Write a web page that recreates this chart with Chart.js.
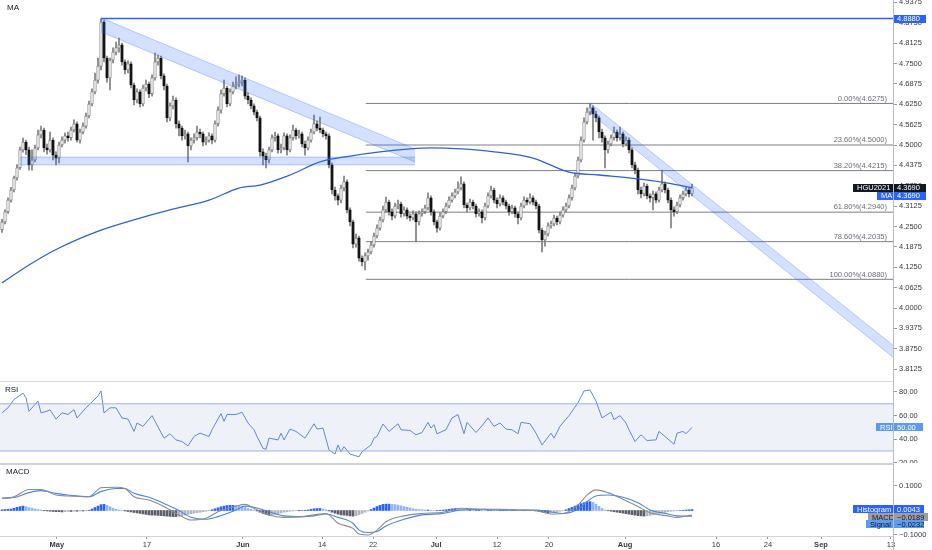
<!DOCTYPE html>
<html>
<head>
<meta charset="utf-8">
<script src="https://cdn.jsdelivr.net/npm/chart.js@4.4.0/dist/chart.umd.min.js"></script>
<style>
  html, body { margin: 0; padding: 0; background: #fff; }
  body { width: 932px; height: 550px; position: relative; overflow: hidden; font-family: "Liberation Sans", Arial, sans-serif; }
  canvas { position: absolute; left: 0; }
  .sep { position: absolute; left: 0; width: 893px; }
  .pane-title { position: absolute; font-size: 8px; line-height: 1; color: #131722; }
</style>
</head>
<body>
<canvas id="priceChart" width="932" height="381" style="top:0"></canvas>
<canvas id="rsiChart" width="932" height="81" style="top:382px"></canvas>
<canvas id="macdChart" width="932" height="85" style="top:465px"></canvas>
<div class="sep" style="top:381px;height:1px;background:#d9dbe0"></div>
<div class="sep" style="top:463px;height:2px;background:#cfd2d8"></div>
<div style="position:absolute;left:893px;top:0;width:1px;height:550px;background:#b9bcc4"></div>
<div class="pane-title" style="left:7px;top:4px">MA</div>
<div class="pane-title" style="left:5px;top:386px">RSI</div>
<div class="pane-title" style="left:6px;top:468px">MACD</div>
<script>
// HGU2021 candles, one per slot; open of each bar = previous close
const firstOpen = 4.240;
const closes = [
  4.264,4.295,4.331,4.362,4.399,4.430,4.485,4.509,4.485,4.439,
  4.454,4.491,4.531,4.546,4.491,4.485,4.515,4.469,4.460,4.500,
  4.515,4.528,4.522,4.546,4.565,4.515,4.540,4.558,4.589,4.626,
  4.663,4.699,4.742,4.877,4.767,4.706,4.761,4.785,4.798,4.807,
  4.755,4.730,4.749,4.684,4.638,4.663,4.626,4.675,4.687,4.657,
  4.706,4.755,4.767,4.712,4.681,4.583,4.620,4.638,4.565,4.552,
  4.528,4.534,4.497,4.515,4.522,4.540,4.534,4.509,4.515,4.528,
  4.515,4.565,4.607,4.657,4.675,4.626,4.663,4.681,4.687,4.693,
  4.699,4.650,4.638,4.620,4.601,4.583,4.479,4.466,4.454,4.485,
  4.522,4.528,4.485,4.491,4.528,4.485,4.522,4.546,4.528,4.534,
  4.503,4.491,4.515,4.540,4.565,4.552,4.546,4.534,4.528,4.439,
  4.362,4.344,4.331,4.368,4.387,4.301,4.264,4.196,4.215,4.153,
  4.141,4.160,4.172,4.193,4.221,4.245,4.270,4.301,4.325,4.295,
  4.282,4.313,4.319,4.289,4.301,4.282,4.276,4.289,4.264,4.289,
  4.295,4.307,4.338,4.295,4.264,4.245,4.282,4.295,4.313,4.331,
  4.344,4.356,4.368,4.381,4.316,4.307,4.325,4.313,4.289,4.295,
  4.276,4.313,4.344,4.362,4.331,4.319,4.338,4.325,4.313,4.295,
  4.307,4.289,4.276,4.313,4.331,4.325,4.338,4.325,4.313,4.239,
  4.209,4.227,4.252,4.258,4.276,4.264,4.285,4.301,4.313,4.338,
  4.368,4.405,4.454,4.515,4.571,4.601,4.614,4.595,4.583,4.540,
  4.522,4.485,4.503,4.522,4.540,4.522,4.534,4.503,4.515,4.485,
  4.439,4.423,4.362,4.350,4.374,4.344,4.338,4.350,4.331,4.362,
  4.381,4.362,4.331,4.301,4.295,4.316,4.338,4.350,4.362,4.350,
  4.369
];
const highs = [
  4.272,4.301,4.338,4.370,4.405,4.440,4.494,4.521,4.515,4.494,
  4.485,4.500,4.546,4.558,4.552,4.503,4.540,4.522,4.479,4.509,
  4.525,4.537,4.540,4.555,4.577,4.571,4.549,4.568,4.598,4.635,
  4.672,4.721,4.767,4.888,4.883,4.773,4.767,4.798,4.816,4.828,
  4.813,4.761,4.758,4.755,4.690,4.672,4.669,4.684,4.699,4.693,
  4.715,4.782,4.776,4.773,4.718,4.687,4.629,4.650,4.645,4.574,
  4.558,4.546,4.540,4.522,4.534,4.558,4.549,4.540,4.525,4.537,
  4.534,4.574,4.617,4.669,4.699,4.681,4.672,4.693,4.709,4.715,
  4.712,4.706,4.660,4.645,4.626,4.607,4.589,4.488,4.475,4.494,
  4.531,4.540,4.534,4.503,4.537,4.534,4.531,4.561,4.552,4.546,
  4.540,4.512,4.525,4.549,4.592,4.574,4.586,4.552,4.540,4.534,
  4.445,4.371,4.350,4.377,4.405,4.393,4.307,4.270,4.227,4.221,
  4.160,4.169,4.181,4.203,4.230,4.255,4.279,4.313,4.340,4.331,
  4.304,4.322,4.331,4.325,4.310,4.307,4.289,4.298,4.295,4.298,
  4.304,4.316,4.353,4.344,4.301,4.270,4.292,4.304,4.322,4.341,
  4.353,4.365,4.387,4.402,4.387,4.322,4.334,4.331,4.319,4.304,
  4.301,4.322,4.353,4.374,4.368,4.338,4.347,4.344,4.331,4.319,
  4.316,4.313,4.295,4.322,4.341,4.338,4.350,4.344,4.331,4.319,
  4.245,4.236,4.261,4.267,4.285,4.282,4.295,4.310,4.322,4.347,
  4.377,4.414,4.463,4.525,4.583,4.614,4.628,4.620,4.604,4.589,
  4.549,4.528,4.512,4.531,4.555,4.546,4.555,4.540,4.525,4.522,
  4.491,4.448,4.429,4.371,4.383,4.380,4.350,4.359,4.356,4.371,
  4.423,4.387,4.368,4.338,4.310,4.325,4.347,4.359,4.371,4.368,
  4.380
];
const lows = [
  4.232,4.258,4.290,4.325,4.356,4.392,4.425,4.478,4.470,4.423,
  4.423,4.448,4.485,4.522,4.479,4.472,4.478,4.454,4.439,4.445,
  4.494,4.506,4.512,4.515,4.540,4.509,4.506,4.534,4.552,4.583,
  4.620,4.657,4.690,4.730,4.755,4.693,4.669,4.752,4.776,4.785,
  4.745,4.718,4.721,4.675,4.623,4.629,4.617,4.620,4.666,4.645,
  4.650,4.699,4.745,4.703,4.669,4.571,4.574,4.611,4.552,4.528,
  4.515,4.518,4.448,4.485,4.506,4.515,4.522,4.497,4.500,4.509,
  4.503,4.509,4.558,4.598,4.650,4.617,4.620,4.657,4.672,4.678,
  4.681,4.641,4.626,4.611,4.592,4.574,4.466,4.439,4.430,4.445,
  4.479,4.512,4.475,4.476,4.485,4.469,4.479,4.515,4.518,4.521,
  4.494,4.469,4.485,4.509,4.534,4.543,4.537,4.525,4.518,4.430,
  4.350,4.331,4.316,4.322,4.359,4.292,4.252,4.184,4.187,4.144,
  4.129,4.117,4.147,4.166,4.187,4.215,4.239,4.264,4.295,4.285,
  4.270,4.276,4.304,4.279,4.282,4.273,4.267,4.270,4.203,4.255,
  4.282,4.289,4.301,4.285,4.255,4.233,4.239,4.276,4.289,4.307,
  4.325,4.338,4.350,4.362,4.307,4.295,4.301,4.304,4.279,4.282,
  4.261,4.270,4.307,4.338,4.322,4.307,4.313,4.316,4.304,4.285,
  4.289,4.279,4.258,4.270,4.307,4.316,4.319,4.316,4.304,4.230,
  4.172,4.190,4.221,4.245,4.252,4.255,4.258,4.279,4.295,4.307,
  4.331,4.362,4.399,4.448,4.509,4.565,4.592,4.515,4.571,4.522,
  4.509,4.430,4.476,4.497,4.515,4.512,4.515,4.494,4.497,4.476,
  4.430,4.411,4.350,4.338,4.344,4.335,4.325,4.301,4.322,4.325,
  4.356,4.353,4.322,4.246,4.282,4.289,4.310,4.331,4.344,4.341,
  4.344
];

// moving average, read as [bar, price]
const maLine = [[0,4.077],[9,4.132],[19,4.184],[33,4.239],[46,4.276],[56,4.301],[69,4.331],
  [79,4.368],[86,4.377],[96,4.408],[106,4.448],[116,4.466],[126,4.479],[136,4.488],[143,4.491],
  [153,4.488],[164,4.479],[177,4.460],[189,4.417],[199,4.408],[212,4.396],[222,4.383],[230,4.369]];

// RSI, read as [bar, value]
const rsiLine = [[0,62.3],[2,66.6],[4,73.7],[7,78.9],[8,75.1],[9,63.7],[12,72.3],[13,62.3],[15,63.7],
  [16,65],[18,57],[20,62.3],[22,61],[24,65],[25,58],[28,66.6],[32,76.6],[33,80.9],[34,62.3],[36,66.6],
  [38,66.6],[40,58],[42,57],[44,46.6],[45,53.7],[47,50.9],[50,60],[54,40.9],[56,44.6],[58,39.4],
  [60,38],[62,34.3],[64,42.3],[66,45.1],[69,42.3],[70,48],[73,61.7],[74,55.1],[75,60.9],[78,60.9],
  [80,62.9],[82,53.7],[84,48],[85,42.3],[87,32.3],[88,31.4],[89,40.9],[92,39.4],[93,45.1],[94,39.4],
  [96,48.6],[98,46.6],[101,40.9],[104,53.1],[105,48.6],[107,49.4],[109,30.9],[111,27.4],[112,35.1],
  [113,29.4],[114,33.7],[116,27.4],[119,25.1],[120,29.4],[123,35.1],[124,40.9],[125,42.3],[127,52.9],
  [129,46.6],[132,53.1],[133,48],[136,47.4],[138,43.7],[140,45.7],[142,54.3],[143,49.4],[144,52.3],
  [145,44.6],[148,48],[150,58],[152,60.9],[154,44.6],[155,54.3],[158,45.7],[160,51.4],[162,58],
  [164,50.9],[166,53.7],[168,48.6],[170,48],[172,44.6],[173,54.3],[176,53.1],[178,45.1],[180,35.1],
  [183,45.1],[184,40.9],[186,50.9],[189,60],[192,70.9],[194,80.9],[196,81.7],[198,72.3],[200,58],
  [203,62.9],[204,56.6],[206,60],[208,53.7],[209,48],[211,38],[213,43.7],[215,38.9],[218,39.4],
  [219,46.6],[221,42.3],[224,35.7],[225,45.1],[227,46.6],[228,44.6],[230,50]];

// MACD and signal lines, read as [bar, value]
const macdLine = [[0,0.050],[4,0.056],[9,0.086],[13,0.086],[18,0.063],[22,0.059],[29,0.056],[33,0.093],
  [38,0.095],[41,0.090],[44,0.056],[49,0.043],[54,0.016],[59,-0.018],[63,-0.039],[68,-0.032],[72,-0.005],
  [78,0.018],[81,0.025],[84,0.009],[89,-0.018],[94,-0.028],[100,-0.025],[104,-0.018],[108,-0.012],
  [112,-0.052],[117,-0.073],[119,-0.096],[122,-0.100],[125,-0.080],[128,-0.046],[134,-0.022],[140,-0.012],
  [147,-0.007],[153,0.009],[160,0.005],[166,0.005],[172,0.002],[178,0.000],[183,-0.014],[187,-0.012],
  [192,0.022],[195,0.063],[198,0.084],[202,0.073],[207,0.046],[212,0.016],[216,-0.009],[222,-0.022],
  [225,-0.028],[230,-0.019]];
const signalLine = [[0,0.050],[4,0.053],[9,0.073],[13,0.081],[18,0.070],[22,0.063],[29,0.056],[33,0.077],
  [38,0.090],[41,0.090],[44,0.070],[49,0.054],[54,0.029],[59,0.000],[63,-0.028],[68,-0.036],[72,-0.025],
  [78,0.002],[81,0.018],[84,0.013],[89,-0.005],[94,-0.022],[100,-0.025],[104,-0.022],[108,-0.014],
  [112,-0.028],[117,-0.052],[119,-0.080],[122,-0.090],[125,-0.086],[128,-0.063],[134,-0.036],[140,-0.018],
  [147,-0.012],[153,0.002],[160,0.005],[166,0.002],[172,0.002],[178,0.002],[183,-0.006],[187,-0.012],
  [192,0.005],[195,0.036],[198,0.059],[202,0.063],[207,0.054],[212,0.032],[216,0.002],[222,-0.014],
  [225,-0.022],[230,-0.023]];

// MACD histogram, one value per bar
const histogram = [
  0.003,0.004,0.005,0.006,
  0.009,0.013,0.016,0.018,0.016,0.012,
  0.009,0.006,0.004,0.002,
  -0.001,-0.002,-0.003,-0.004,-0.005,-0.005,-0.006,-0.005,-0.004,-0.004,-0.003,-0.003,-0.002,-0.002,-0.001,0.001,
  0.006,0.012,0.018,0.024,0.025,0.021,0.015,0.009,
  0.005,0.002,0.000,-0.002,
  -0.004,-0.006,-0.008,-0.010,-0.012,-0.014,-0.016,-0.018,-0.019,-0.019,-0.020,-0.021,-0.022,-0.023,
  -0.024,-0.025,-0.025,-0.024,-0.022,-0.019,-0.016,
  -0.013,-0.011,-0.009,-0.007,-0.005,-0.003,-0.001,
  0.003,0.007,0.011,0.015,0.018,0.020,0.021,0.021,0.020,0.018,0.015,0.012,0.008,0.005,
  0.002,-0.002,-0.007,-0.012,-0.016,-0.019,-0.018,-0.016,-0.013,-0.010,-0.007,-0.005,
  -0.003,-0.002,-0.001,-0.001,0.000,0.001,0.002,
  0.005,0.007,0.008,0.008,0.006,0.003,
  -0.002,-0.007,-0.011,-0.015,-0.018,-0.019,-0.020,-0.022,
  -0.023,-0.021,-0.017,-0.012,-0.007,-0.002,
  0.004,0.010,0.016,0.021,0.025,0.026,0.026,0.025,0.024,0.022,0.019,0.016,0.013,0.010,0.007,
  0.005,0.004,0.003,0.002,0.002,0.001,0.000,-0.001,0.001,0.002,0.003,
  0.005,0.007,0.008,0.007,0.005,
  0.003,0.002,0.002,0.001,0.002,0.003,0.002,0.001,0.002,0.002,0.001,0.000,
  0.001,0.002,0.002,0.001,0.001,0.002,0.001,0.000,-0.001,0.001,0.001,0.000,
  -0.002,-0.004,-0.006,-0.008,-0.009,-0.008,-0.007,-0.005,-0.003,-0.001,
  0.003,0.008,0.013,0.018,0.023,0.028,0.032,0.035,0.036,0.033,0.026,0.017,0.008,
  0.002,-0.001,-0.003,-0.005,
  -0.007,-0.009,-0.011,-0.013,-0.015,-0.017,-0.019,-0.021,-0.022,-0.023,-0.022,-0.020,-0.018,-0.015,-0.012,-0.009,-0.007,
  -0.005,-0.003,-0.002,-0.001,0.000,0.001,0.002,0.003,0.004
];

// axis ticks
const priceTicks = [4.9375,4.875,4.8125,4.75,4.6875,4.625,4.5625,4.5,4.4375,4.375,4.3125,4.25,
  4.1875,4.125,4.0625,4.0,3.9375,3.875,3.8125];
const rsiTicks = [80, 60, 40, 20];
const macdTicks = [0.1, -0.1];
const dateTickIdx = [18.3, 48.3, 80.3, 106.7, 123.7, 144.7, 165, 182.3, 207.7, 238, 255.3, 273, 296.3];
const dateTickLabels = ['May', '17', 'Jun', '14', '22', 'Jul', '12', '20', 'Aug', '16', '24', 'Sep', '13'];
const monthLabels = ['May', 'Jun', 'Jul', 'Aug', 'Sep'];

// drawings: fib retracement, resistance level, channels [bar, price]
const fibRatios = ['0.00%', '23.60%', '38.20%', '61.80%', '78.60%', '100.00%'];
const fibPrices = [4.6275, 4.5000, 4.4215, 4.2940, 4.2035, 4.0880];
const fibStart = 121.3;
const topLevel = 4.888;
const topLevelStart = 33;
const wedgeTop = [[33, 4.890], [137.7, 4.488]];
const wedgeBottom = [[33, 4.847], [137.7, 4.448]];
const supportTop = [[6, 4.463], [137.7, 4.463]];
const supportBottom = [[6, 4.439], [137.7, 4.439]];
const channelTop = [[196, 4.629], [297, 3.886]];
const channelBottom = [[196, 4.598], [297, 3.849]];

// last values shown on the axes
const lastPrice = 4.3690;
const lastMA = 4.3690;
const lastRsi = 50.00;
const lastHist = 0.0043;
const lastMacd = -0.0189;
const lastSignal = -0.0232;

const XMIN = -0.667, XMAX = 297;
const FONT = '"Liberation Sans", Arial, sans-serif';
const AXIS_TEXT = '#363a45';

const pts = arr => arr.map(p => ({ x: p[0], y: p[1] }));
const hLine = (from, v) => [{ x: from, y: v }, { x: XMAX, y: v }];
const minus = s => s.replace('-', '\u2212');

function fitRight(scale) {
    scale.width = 39;
    scale.paddingTop = 0;
    scale.paddingBottom = 0;
}

function rightAxis(min, max, ticks, fmt) {
    return {
        position: 'right', min: min, max: max,
        afterFit: fitRight,
        afterBuildTicks: s => { s.ticks = ticks.map(v => ({ value: v })); },
        ticks: { callback: fmt, color: AXIS_TEXT, padding: 2, font: { size: 7.5, family: FONT } },
        grid: { display: true, drawOnChartArea: false, offset: false, tickLength: 4, color: '#9598a1' },
        border: { display: false }
    };
}

function hiddenX() {
    return { type: 'linear', min: XMIN, max: XMAX, offset: false, display: false };
}

function drawTag(ctx, yMid, left, right, bg, name, value, color) {
    ctx.fillStyle = bg;
    ctx.fillRect(left, Math.round(yMid - 4), right - left, 8);
    ctx.fillStyle = color || '#ffffff';
    ctx.font = '7.5px ' + FONT;
    ctx.textBaseline = 'middle';
    ctx.textAlign = 'left';
    if (name) ctx.fillText(name, left + 4, yMid + 0.5);
    ctx.fillText(value, 897, yMid + 0.5);
}

const baseOptions = {
    responsive: false,
    animation: false,
    events: [],
    layout: { padding: 0 },
    plugins: { legend: { display: false }, tooltip: { enabled: false } }
};

// ---------- price pane ----------
const opens = closes.map((c, i) => i === 0 ? firstOpen : closes[i - 1]);
const isUp = closes.map((c, i) => c >= opens[i]);

const priceOverlay = {
    id: 'priceOverlay',
    afterDatasetsDraw(chart) {
        const { ctx, chartArea, scales: { y } } = chart;
        ctx.save();
        ctx.font = '7.5px ' + FONT;
        ctx.fillStyle = '#6a6d78';
        ctx.textAlign = 'right';
        ctx.textBaseline = 'bottom';
        fibPrices.forEach((p, i) => {
            ctx.fillText(fibRatios[i] + '(' + p.toFixed(4) + ')', chartArea.right - 6, y.getPixelForValue(p) - 1);
        });
        ctx.restore();
    },
    afterDraw(chart) {
        const { ctx, scales: { y } } = chart;
        ctx.save();
        drawTag(ctx, y.getPixelForValue(topLevel), 893, 926, '#2962ff', '', topLevel.toFixed(4));
        const py = y.getPixelForValue(lastPrice);
        drawTag(ctx, py, 853, 926, '#131722', 'HGU2021', lastPrice.toFixed(4));
        drawTag(ctx, py + 8, 877, 926, '#2962ff', 'MA', lastMA.toFixed(4));
        ctx.restore();
    }
};

const bandStyle = { type: 'line', pointRadius: 0, borderWidth: 1, borderColor: 'rgba(41,98,255,0.28)', order: 1 };

new Chart(document.getElementById('priceChart'), {
    type: 'bar',
    data: {
        datasets: [
            ...fibPrices.map(p => ({
                type: 'line', data: hLine(fibStart, p), borderColor: '#7b7e88', borderWidth: 1,
                pointRadius: 0, order: 6
            })),
            {
                label: 'wicks', data: closes.map((c, i) => ({ x: i, y: [lows[i], highs[i]] })),
                backgroundColor: '#7d7d7d', barThickness: 1, grouped: false, borderSkipped: false, order: 5
            },
            {
                label: 'HGU2021', data: closes.map((c, i) => ({ x: i, y: [opens[i], c] })),
                backgroundColor: isUp.map(u => u ? '#f4f4f4' : '#111111'),
                borderColor: isUp.map(u => u ? '#6c6c6c' : '#111111'),
                borderWidth: 0.8, barThickness: 2.6, minBarLength: 1, grouped: false, borderSkipped: false, order: 4
            },
            {
                type: 'line', label: 'MA', data: pts(maLine), borderColor: '#2f5fdc', borderWidth: 1.3,
                pointRadius: 0, cubicInterpolationMode: 'monotone', order: 2
            },
            { ...bandStyle, data: pts(wedgeTop) },
            { ...bandStyle, data: pts(wedgeBottom), fill: '-1', backgroundColor: 'rgba(41,98,255,0.2)' },
            { ...bandStyle, data: pts(supportTop) },
            { ...bandStyle, data: pts(supportBottom), fill: '-1', backgroundColor: 'rgba(41,98,255,0.2)' },
            { ...bandStyle, data: pts(channelTop) },
            { ...bandStyle, data: pts(channelBottom), fill: '-1', backgroundColor: 'rgba(41,98,255,0.2)' },
            {
                type: 'line', data: hLine(topLevelStart, topLevel), borderColor: '#2962ff', borderWidth: 1.4,
                pointRadius: 0, order: 1
            }
        ]
    },
    options: {
        ...baseOptions,
        scales: {
            x: hiddenX(),
            y: rightAxis(3.7761, 4.9448, priceTicks, v => v.toFixed(4))
        }
    },
    plugins: [priceOverlay]
});

// ---------- RSI pane ----------
const rsiOverlay = {
    id: 'rsiOverlay',
    afterDraw(chart) {
        const { ctx, scales: { y } } = chart;
        ctx.save();
        drawTag(ctx, y.getPixelForValue(lastRsi), 876, 923, '#5b9bf2', 'RSI', lastRsi.toFixed(2));
        ctx.restore();
    }
};

new Chart(document.getElementById('rsiChart'), {
    type: 'line',
    data: {
        datasets: [
            { data: hLine(XMIN, 70), borderColor: '#a4aef0', borderWidth: 1, pointRadius: 0 },
            { data: hLine(XMIN, 30), borderColor: '#a4aef0', borderWidth: 1, pointRadius: 0,
              fill: '-1', backgroundColor: 'rgba(126,146,190,0.13)' },
            { label: 'RSI', data: pts(rsiLine), borderColor: '#5a85e6', borderWidth: 1, pointRadius: 0, tension: 0 }
        ]
    },
    options: {
        ...baseOptions,
        scales: {
            x: hiddenX(),
            y: rightAxis(19.83, 88.47, rsiTicks, v => v.toFixed(2))
        }
    },
    plugins: [rsiOverlay]
});

// ---------- MACD pane ----------
const histColors = histogram.map((v, i) => {
    const prev = i > 0 ? histogram[i - 1] : v;
    if (v >= 0) return v >= prev ? '#2962ff' : '#8fb4fb';
    return v <= prev ? '#5d606b' : '#b2b5be';
});

const macdOverlay = {
    id: 'macdOverlay',
    afterDraw(chart) {
        const { ctx, scales: { y } } = chart;
        ctx.save();
        const hy = y.getPixelForValue(lastHist);
        drawTag(ctx, hy, 853, 924, '#2962ff', 'Histogram', lastHist.toFixed(4));
        drawTag(ctx, hy + 7.5, 868, 928, '#9b9da3', 'MACD', minus(lastMacd.toFixed(4)), '#131722');
        drawTag(ctx, hy + 15, 866, 924, '#5b9bf2', 'Signal', minus(lastSignal.toFixed(4)), '#131722');
        ctx.restore();
    }
};

new Chart(document.getElementById('macdChart'), {
    type: 'bar',
    data: {
        datasets: [
            {
                label: 'Histogram', data: histogram.map((v, i) => ({ x: i, y: v })),
                backgroundColor: histColors, barThickness: 2, grouped: false, order: 3
            },
            {
                type: 'line', label: 'MACD', data: pts(macdLine), borderColor: '#8a8c92', borderWidth: 1.1,
                pointRadius: 0, cubicInterpolationMode: 'monotone', order: 1
            },
            {
                type: 'line', label: 'Signal', data: pts(signalLine), borderColor: '#4a84ea', borderWidth: 1.1,
                pointRadius: 0, cubicInterpolationMode: 'monotone', order: 2
            }
        ]
    },
    options: {
        ...baseOptions,
        scales: {
            x: {
                type: 'linear', min: XMIN, max: XMAX, offset: false,
                afterFit: s => { s.height = 14; s.paddingLeft = 0; s.paddingRight = 0; },
                afterBuildTicks: s => { s.ticks = dateTickIdx.map(v => ({ value: v })); },
                ticks: {
                    autoSkip: false, maxRotation: 0, minRotation: 0, padding: 1, color: AXIS_TEXT,
                    callback: (v, i) => dateTickLabels[i],
                    font: ctx => ({
                        size: 7.5, family: FONT,
                        weight: monthLabels.includes(dateTickLabels[ctx.index]) ? 'bold' : 'normal'
                    })
                },
                grid: { display: true, drawOnChartArea: false, offset: false, tickLength: 3, color: '#9598a1' },
                border: { display: true, color: '#d1d4dc' }
            },
            y: rightAxis(-0.1041, 0.1857, macdTicks, v => minus(v.toFixed(4)))
        }
    },
    plugins: [macdOverlay]
});
</script>
</body>
</html>
